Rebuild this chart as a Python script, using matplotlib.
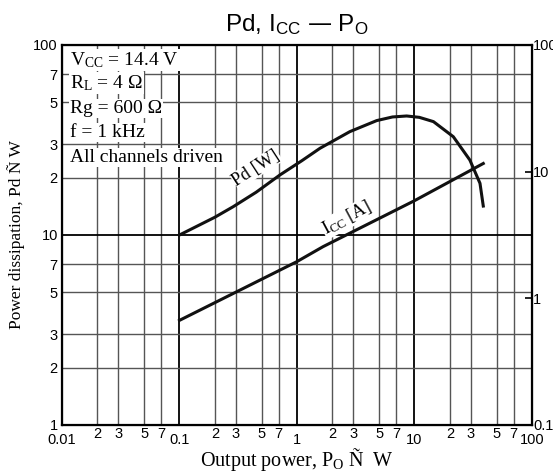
import numpy as np
import matplotlib.pyplot as plt
from matplotlib.ticker import FixedLocator, FixedFormatter

# data
po_pd = [0.1, 0.2, 0.287, 0.45, 0.716, 1.1, 1.57, 2.82, 4.77, 6.5, 8.58, 11.0, 14.5,
         21.4, 29.6, 36.1, 38.5]
pd_w = [10.0, 12.4, 14.1, 16.8, 20.7, 24.6, 28.6, 35.0, 40.0, 41.8, 42.3, 41.6, 39.5,
        32.9, 24.8, 18.7, 14.2]

po_icc = [0.1, 1.0, 1.67, 10.0, 38.5]
icc_a = [0.67, 1.95, 2.56, 5.9, 11.6]

x_major = [0.01, 0.1, 1, 10, 100]
x_major_labels = ['0.01', '0.1', '1', '10', '100']
x_minor = [0.02, 0.03, 0.05, 0.07, 0.2, 0.3, 0.5, 0.7, 2, 3, 5, 7, 20, 30, 50, 70]
x_minor_labels = ['2', '3', '5', '7'] * 4
y_ticks = [1, 2, 3, 5, 7, 10, 20, 30, 50, 70, 100]
y_labels = ['1', '2', '3', '5', '7', '10', '2', '3', '5', '7', '100']
r_ticks = [0.1, 1, 10, 100]
r_labels = ['0.1', '1', '10', '100']

cond_lines = ['$\\mathregular{V_{CC}}$ = 14.4 V', '$\\mathregular{R_L}$ = 4 Ω',
              'Rg = 600 Ω', 'f = 1 kHz', 'All channels driven']

sans = 'Liberation Sans'
serif = 'Liberation Serif'

fig = plt.figure(figsize=(5.53, 4.73), dpi=100)
ax = fig.add_axes([0.1121, 0.1015, 0.8499, 0.8034])
ax.set_xscale('log')
ax.set_yscale('log')
ax.set_xlim(0.01, 100)
ax.set_ylim(1, 100)

# grid: decades black, the rest gray
for v in x_major + x_minor:
    major = v in x_major
    ax.axvline(v, color='black' if major else '#555555', lw=1.3 if major else 1.0, zorder=1)
for v in y_ticks:
    major = v in (1, 10, 100)
    ax.axhline(v, color='black' if major else '#555555', lw=1.3 if major else 1.0, zorder=1)

ax.xaxis.set_major_locator(FixedLocator(x_major))
ax.xaxis.set_major_formatter(FixedFormatter(x_major_labels))
ax.xaxis.set_minor_locator(FixedLocator(x_minor))
ax.xaxis.set_minor_formatter(FixedFormatter(x_minor_labels))
ax.tick_params(axis='x', which='major', length=0, pad=6, labelsize=10.5)
ax.tick_params(axis='x', which='minor', length=0, pad=1.5, labelsize=10.5)
for lab in ax.get_xticklabels(which='both'):
    lab.set_fontfamily(sans)

ax.yaxis.set_major_locator(FixedLocator(y_ticks))
ax.yaxis.set_major_formatter(FixedFormatter(y_labels))
ax.yaxis.set_minor_locator(FixedLocator([]))
ax.tick_params(axis='y', which='major', length=0, pad=3, labelsize=10.5)
for lab in ax.get_yticklabels():
    lab.set_fontfamily(sans)
for s in ax.spines.values():
    s.set_linewidth(1.6)

ax.plot(po_pd, pd_w, color='#111111', lw=2.2, zorder=3, solid_joinstyle='round')

ax2 = ax.twinx()
ax2.set_yscale('log')
ax2.set_ylim(0.1, 100)
ax2.yaxis.set_major_locator(FixedLocator(r_ticks))
ax2.yaxis.set_major_formatter(FixedFormatter(r_labels))
ax2.yaxis.set_minor_locator(FixedLocator([]))
ax2.tick_params(axis='y', length=5, direction='in', width=1.2, pad=1, labelsize=10.5)
for lab in ax2.get_yticklabels():
    lab.set_fontfamily(sans)
ax2.plot(po_icc, icc_a, color='#111111', lw=2.2, zorder=3)

# condition text, each line on white over the grid
base_y = [0.947, 0.887, 0.821, 0.758, 0.692]
for txt, yy in zip(cond_lines, base_y):
    ax.text(0.017, yy, txt, transform=ax.transAxes, fontfamily=serif, fontsize=14,
            va='baseline', ha='left', zorder=4,
            bbox=dict(facecolor='white', edgecolor='none', pad=1.0))

ax.text(0.45, 22.5, 'Pd [W]', fontfamily=serif, fontsize=13, rotation=33,
        ha='center', va='center', zorder=4,
        bbox=dict(facecolor='white', edgecolor='none', pad=0.3))
ax2.text(2.65, 4.3, '$\\mathregular{I_{CC}}$ [A]', fontfamily=serif, fontsize=13,
         rotation=28, ha='center', va='center', zorder=4,
         bbox=dict(facecolor='white', edgecolor='none', pad=0.3))

fig.text(0.537, 0.948, 'Pd, $\\mathregular{I_{CC}}$ — $\\mathregular{P_O}$', fontfamily=sans,
         fontsize=17.5, ha='center', va='center')
ax.set_xlabel('Output power, $\\mathregular{P_O}$ Ñ  W', fontfamily=serif, fontsize=14.5,
              labelpad=-1)
ax.set_ylabel('Power dissipation, Pd Ñ W', fontfamily=serif, fontsize=12.5, labelpad=6)

fig.savefig('out.png', dpi=100)
